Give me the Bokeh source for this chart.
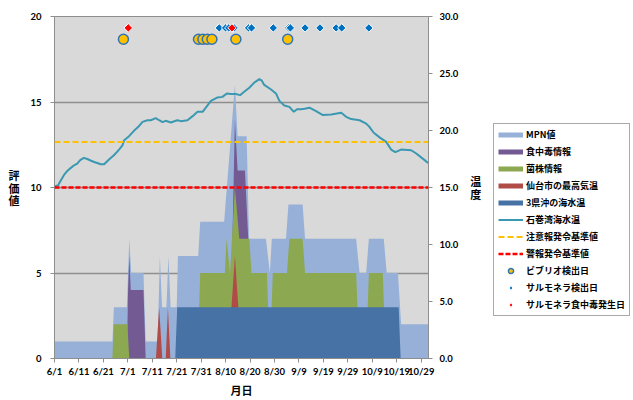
import math
from bokeh.plotting import figure
from bokeh.layouts import row
from bokeh.models import (Range1d, LinearAxis, FixedTicker, Legend, LegendItem,
                          NumeralTickFormatter, Span, AllLabels)
from bokeh.embed import file_html
from bokeh.resources import INLINE

FONT = "Noto Sans CJK JP"
NUM_FONT = "Lato"
NAN = float("nan")

# x axis: days since 6/1
tick_days = [0, 10, 20, 30, 40, 50, 60, 70, 80, 90, 100, 110, 120, 130, 140, 150]
tick_labels = ["6/1", "6/11", "6/21", "7/1", "7/11", "7/21", "7/31", "8/10", "8/20",
               "8/30", "9/9", "9/19", "9/29", "10/9", "10/19", "10/29"]

# MPN値 (評価値)
mpn_days = [0, 23.7, 24.3, 29.6, 30.6, 31.4, 36.4, 37.3, 42.2, 43.1, 44.0, 45.8, 46.6, 47.5,
            50.0, 50.5, 58.8, 59.6, 69.4, 73.8, 74.9, 78.6, 79.6, 86.5, 88.1, 88.9, 94.7, 95.7,
            101.5, 102.5, 123.4, 124.8, 127.5, 128.6, 134.7, 135.9, 140.5, 141.8, 153]
mpn_vals = [1, 1, 3, 3, 7, 5, 5, 1, 1, 6, 3, 3, 6, 3,
            3, 6, 6, 8, 8, 16, 13, 13, 7, 7, 5, 7, 7, 9,
            9, 7, 7, 5, 5, 7, 7, 5, 5, 2, 2]

# 食中毒情報
food_days = [29.6, 30.1, 30.6, 31.2, 36.4, 37.3, 71.8, 73.8, 74.9, 77.9, 79.6, 80.6]
food_vals = [0, 4, 6, 4, 4, 0, 0, 14, 11, 11, 6, 0]

# 菌株情報
strain_days = [23.7, 24.2, 29.8, 30.6, 58.6, 59.6, 69.7, 70.4, 71.8, 73.8, 75.6, 79.7, 80.6,
               86.9, 88.1, 89.3, 95.1, 96.1, 101.5, 102.5, 123.4, 124.8, 127.4, 128.6, 134.3, 135.5]
strain_vals = [0, 2, 2, 0, 0, 5, 5, 7, 5, 10, 7, 7, 5,
               5, 0, 5, 5, 7, 7, 5, 5, 0, 0, 5, 5, 0]

# 仙台市の最高気温
tmax_days = [41.5, 42.8, 44.1, 45.5, 46.4, 47.4, 71.0, 73.8, 76.6]
tmax_vals = [0, 3, 0, 0, 3, 0, 0, 6, 0]

# 3県沖の海水温
sea3_days = [49.4, 50.2, 140.8, 141.6]
sea3_vals = [0, 3, 3, 0]

# 石巻湾海水温 (℃, right axis)
temp_days = [0, 1.5, 2.5, 3.9, 5, 6.6, 8, 9.3, 10.5, 12, 13.4, 15, 16.2, 17.5, 18.9, 20.3, 22.3,
             24.3, 25.5, 26.4, 27.8, 28.5, 30.5, 32.5, 34.2, 36, 38, 39.4, 41.4, 42.8, 44.2, 45.5,
             47.6, 49.6, 50.3, 51.7, 54.4, 56.5, 58.5, 60.6, 62.6, 64, 66.7, 68.7, 70.5, 72.1,
             74.2, 75.9, 77.6, 79.7, 81.7, 83.8, 84.7, 85.8, 88.6, 90.6, 92, 94, 96.1, 97.9,
             99.2, 100.8, 102.3, 104.3, 107, 109.8, 113.2, 117.3, 119.3, 121.4, 124.8, 127.5,
             128.9, 130.6, 133, 135.7, 137.7, 139.4, 141.8, 145.9, 148, 151.4, 152.8]
temp_vals = [15.1, 15.2, 15.6, 16.1, 16.4, 16.7, 16.95, 17.1, 17.4, 17.6, 17.5, 17.35, 17.24,
             17.15, 17.04, 17.04, 17.45, 17.83, 18.1, 18.33, 18.7, 19.15, 19.5, 19.97, 20.3,
             20.76, 20.9, 20.9, 21.08, 20.9, 20.73, 20.85, 20.7, 20.85, 20.9, 20.82, 20.9,
             21.26, 21.64, 21.64, 22.2, 22.6, 22.9, 22.95, 23.25, 23.2, 23.2, 23.1, 23.4, 23.75,
             24.2, 24.5, 24.4, 24.0, 23.6, 23.25, 22.6, 22.2, 22.07, 21.64, 21.87, 21.87, 21.9,
             22.0, 21.7, 21.35, 21.4, 21.55, 21.2, 21.0, 20.9, 20.6, 20.3, 19.8, 19.4, 19.0,
             18.33, 18.1, 18.33, 18.27, 17.98, 17.4, 17.15]

# 基準値 (℃)
caution_level = 19.0
warning_level = 15.0

# detection days
vibrio_days = [28.2, 58.9, 60.7, 62.5, 64.4, 74.2, 95.4]
salm_days = [67.4, 70.0, 71.3, 73.5, 79.4, 80.6, 89.5, 95.8, 96.5, 102.5, 108.6, 115.2, 117.5, 128.6]
outbreak_days = [30.2, 72.6]
vibrio_row = 28.0
salm_row = 29.0

C_MPN = "#97B0D8"
C_FOOD = "#735A93"
C_STRAIN = "#8CA850"
C_TMAX = "#B04B48"
C_SEA3 = "#4672A6"
C_TEMP = "#3B98B1"
C_GRID = "#8E8E8E"

VIB = dict(marker="circle", size=10, fill_color="#FFC000", line_color="#2E75B6", line_width=1.5)
SALM = dict(marker="square", angle=math.pi / 4, size=6, fill_color="#0070C0",
            line_color="white", line_width=1)
OUT = dict(marker="square", angle=math.pi / 4, size=6, fill_color="#FF0000",
           line_color="white", line_width=1)

p = figure(width=490, height=400, x_range=Range1d(0, 153), y_range=Range1d(0, 20),
           output_backend="svg", toolbar_location=None,
           min_border_left=54, min_border_right=62, min_border_top=16, min_border_bottom=42)
p.extra_y_ranges = {"temp": Range1d(0, 30)}
p.background_fill_color = "#D9D9D9"
p.border_fill_color = "white"
p.outline_line_color = C_GRID
p.outline_line_width = 1

p.xgrid.visible = False
p.ygrid.ticker = FixedTicker(ticks=[5, 10, 15])
p.ygrid.grid_line_color = C_GRID
p.ygrid.grid_line_width = 1.5

p.varea(x=mpn_days, y1=0, y2=mpn_vals, fill_color=C_MPN)
p.varea(x=food_days, y1=0, y2=food_vals, fill_color=C_FOOD)
p.varea(x=strain_days, y1=0, y2=strain_vals, fill_color=C_STRAIN)
p.varea(x=tmax_days, y1=0, y2=tmax_vals, fill_color=C_TMAX)
p.varea(x=sea3_days, y1=0, y2=sea3_vals, fill_color=C_SEA3)

p.add_layout(Span(location=caution_level, dimension="width", y_range_name="temp",
                  line_color="#FFC000", line_width=2, line_dash="6 3"))
p.add_layout(Span(location=warning_level, dimension="width", y_range_name="temp",
                  line_color="#FF0000", line_width=2.5, line_dash="5 2"))

p.line(x=temp_days, y=temp_vals, y_range_name="temp", line_color=C_TEMP, line_width=2)

p.scatter(x=vibrio_days, y=[vibrio_row] * len(vibrio_days), y_range_name="temp", **VIB)
p.scatter(x=salm_days, y=[salm_row] * len(salm_days), y_range_name="temp", **SALM)
p.scatter(x=outbreak_days, y=[salm_row] * len(outbreak_days), y_range_name="temp", **OUT)

# axes
def style_axis(ax):
    ax.axis_line_color = C_GRID
    ax.major_tick_line_color = C_GRID
    ax.minor_tick_line_color = None
    ax.major_tick_in = 0
    ax.major_tick_out = 4
    ax.major_label_text_font = NUM_FONT
    ax.major_label_text_font_style = "bold"
    ax.major_label_text_font_size = "9.5px"
    ax.major_label_text_color = "black"
    ax.axis_label_text_font = FONT
    ax.axis_label_text_font_style = "bold"
    ax.axis_label_text_font_size = "11px"
    ax.axis_label_text_color = "black"
    ax.axis_label_text_line_height = 0.8
    ax.major_label_policy = AllLabels()

xa = p.xaxis[0]
xa.ticker = FixedTicker(ticks=tick_days)
xa.major_label_overrides = {d: lab for d, lab in zip(tick_days, tick_labels)}
xa.axis_label = "月日"
style_axis(xa)
xa.major_label_standoff = 3
xa.axis_label_standoff = 2

ya = p.yaxis[0]
ya.ticker = FixedTicker(ticks=[0, 5, 10, 15, 20])
ya.axis_label = "評\n価\n値"
ya.axis_label_orientation = "horizontal"
style_axis(ya)
ya.major_label_standoff = 9
ya.axis_label_standoff = 8

ra = LinearAxis(y_range_name="temp", ticker=FixedTicker(ticks=[0, 5, 10, 15, 20, 25, 30]),
                formatter=NumeralTickFormatter(format="0.0"), axis_label="温\n度",
                axis_label_orientation="horizontal")
style_axis(ra)
ra.major_label_standoff = 7
ra.axis_label_standoff = 9
p.add_layout(ra, "right")

# legend panel
q = figure(width=143, height=400, x_range=Range1d(0, 1), y_range=Range1d(0, 1),
           output_backend="svg", toolbar_location=None,
           min_border_left=0, min_border_right=0, min_border_top=0, min_border_bottom=0)
q.axis.visible = False
q.grid.visible = False
q.outline_line_color = None
q.background_fill_color = "white"
q.border_fill_color = "white"

def proxy(color, width, dash="solid"):
    return q.line(x=[NAN], y=[NAN], line_color=color, line_width=width, line_dash=dash)

LEG_SALM = dict(marker="diamond", size=9, fill_color="#0070C0", line_color="white", line_width=1)
LEG_OUT = dict(marker="diamond", size=9, fill_color="#FF0000", line_color="white", line_width=1)

items = [
    LegendItem(label="MPN値", renderers=[proxy(C_MPN, 5)]),
    LegendItem(label="食中毒情報", renderers=[proxy(C_FOOD, 5)]),
    LegendItem(label="菌株情報", renderers=[proxy(C_STRAIN, 5)]),
    LegendItem(label="仙台市の最高気温", renderers=[proxy(C_TMAX, 5)]),
    LegendItem(label="3県沖の海水温", renderers=[proxy(C_SEA3, 5)]),
    LegendItem(label="石巻湾海水温", renderers=[proxy(C_TEMP, 2)]),
    LegendItem(label="注意報発令基準値", renderers=[proxy("#FFC000", 2, "6 3")]),
    LegendItem(label="警報発令基準値", renderers=[proxy("#FF0000", 2.5, "5 2")]),
    LegendItem(label="ビブリオ検出日", renderers=[q.scatter(x=[NAN], y=[NAN], **VIB)]),
    LegendItem(label="サルモネラ検出日", renderers=[q.scatter(x=[NAN], y=[NAN], **LEG_SALM)]),
    LegendItem(label="サルモネラ食中毒発生日", renderers=[q.scatter(x=[NAN], y=[NAN], **LEG_OUT)]),
]
legend = Legend(items=items, location=(3, 42), label_text_font=FONT,
                label_text_font_style="bold", label_text_font_size="9px",
                label_text_color="black", glyph_width=25, glyph_height=13, label_height=13,
                spacing=4, padding=4, margin=0, label_standoff=3,
                border_line_color="#555555", border_line_width=1,
                background_fill_color="white", background_fill_alpha=1.0)
q.add_layout(legend)

layout = row(p, q)
open("out.html", "w").write(file_html(layout, INLINE))
